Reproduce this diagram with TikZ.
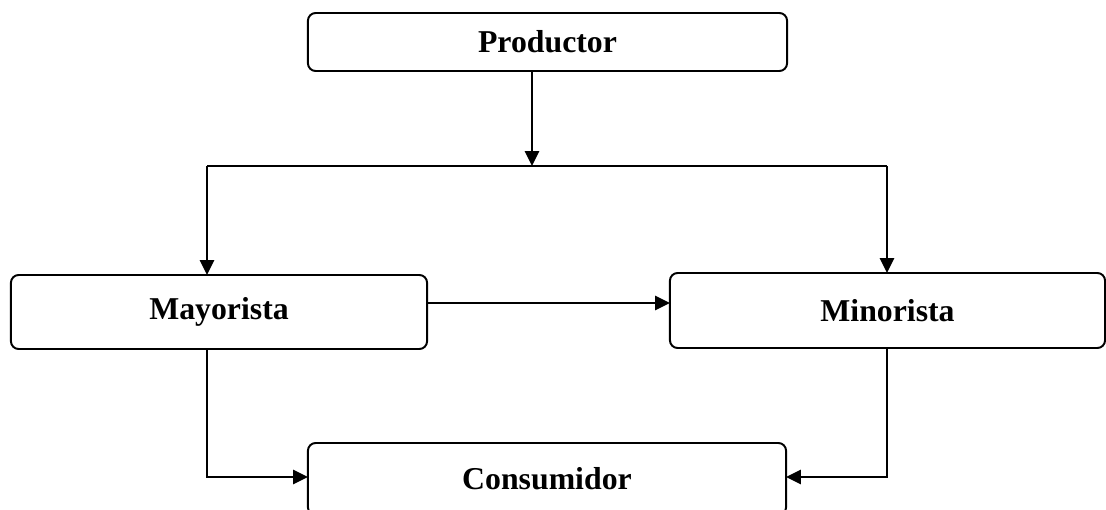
\documentclass[tikz,border=0pt]{standalone}
\usepackage{fontspec}
\setmainfont{Liberation Serif}
\usepackage{tikz}
\usetikzlibrary{arrows.meta}

\begin{document}
\begin{tikzpicture}[x=0.025cm,y=-0.025cm,line width=1.4pt,
    box/.style={rectangle,rounded corners=5.5pt,draw,inner sep=0pt,outer sep=0pt,
      font=\fontsize{22.6}{27}\selectfont\bfseries},
    >={Triangle[length=10.5pt,width=10pt]}]
  \useasboundingbox (0,0) rectangle (1106,510);
  \clip (0,0) rectangle (1106,510);
  \node at (547.5,42) (prod) [box,minimum width=11.975cm,minimum height=1.45cm] {Productor};
  \node at (219,312) (may) [box,minimum width=10.4cm,minimum height=1.85cm] {Mayorista};
  \node at (887.5,310.5) (min) [box,minimum width=10.875cm,minimum height=1.875cm] {Minorista};
  \node at (547,479) (cons) [box,minimum width=11.95cm,minimum height=1.8cm] {Consumidor};
  \coordinate (split) at (532,166);
  \coordinate (busL) at (207,166);
  \coordinate (busR) at (887,166);
  \draw[->] (prod.south -| split) -- (split);
  \draw (busL) -- (busR);
  \draw[->] (busL) -- (busL |- may.north);
  \draw[->] (busR) -- (busR |- min.north);
  \draw[->] ([yshift=0.225cm]may.east) -- ([yshift=0.225cm]may.east -| min.west);
  \draw[->] (busL |- may.south) |- ([yshift=0.05cm]cons.west);
  \draw[->] (busR |- min.south) |- ([yshift=0.05cm]cons.east);
\end{tikzpicture}
\end{document}
